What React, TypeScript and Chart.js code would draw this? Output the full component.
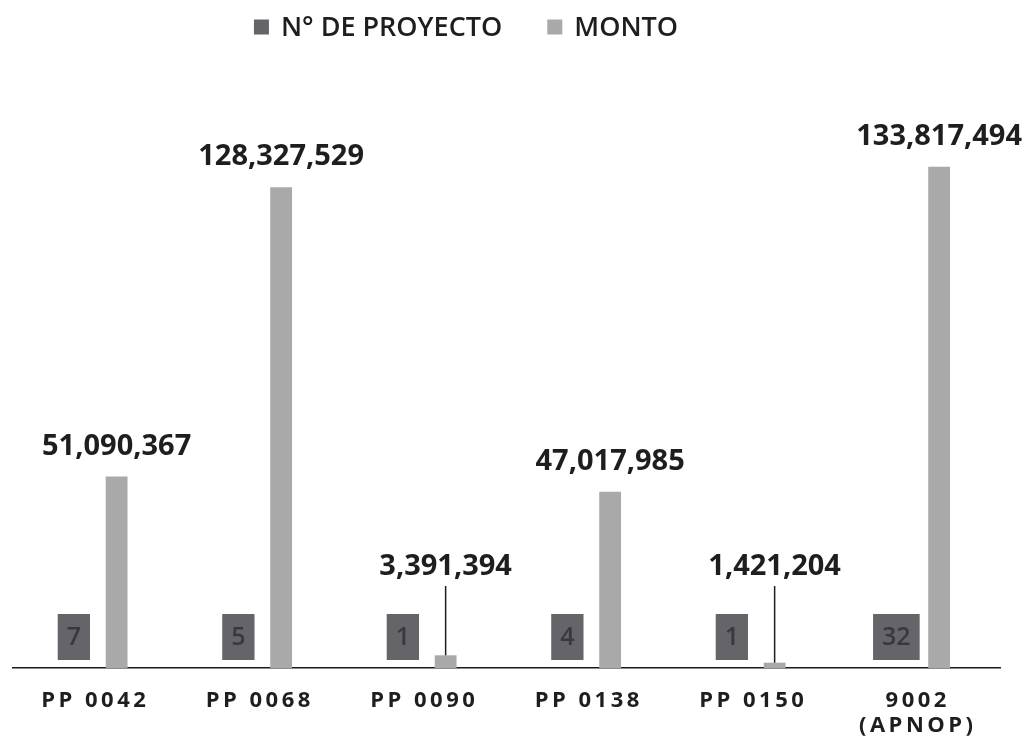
import React, { useEffect, useRef } from 'react';
import { Chart, registerables } from 'chart.js';

Chart.register(...registerables);

const categories: (string | string[])[] = ['PP 0042', 'PP 0068', 'PP 0090', 'PP 0138', 'PP 0150', ['9002', '(APNOP)']];
const proyectos = [7, 5, 1, 4, 1, 32];
const montos = [51090367, 128327529, 3391394, 47017985, 1421204, 133817494];
const seriesNames = ['N° DE PROYECTO', 'MONTO'];
const seriesColors = ['#656569', '#a9a9a9'];
const yMax = 150000000;

const fmt = (v: number) => v.toLocaleString('en-US');

const customPlugin = {
  id: 'customDraw',
  beforeDraw(chart: any) {
    (chart.ctx as any).letterSpacing = '3.5px';
  },
  beforeDatasetsDraw(chart: any) {
    (chart.ctx as any).letterSpacing = '0px';
  },
  afterDatasetsDraw(chart: any) {
    const ctx = chart.ctx as CanvasRenderingContext2D;
    const yScale = chart.scales.y;
    const base = yScale.getPixelForValue(0);
    ctx.save();
    (ctx as any).letterSpacing = '0px';

    // N° de proyecto boxes
    const meta0 = chart.getDatasetMeta(0);
    ctx.font = '600 25px "Open Sans"';
    meta0.data.forEach((el: any, i: number) => {
      const txt = String(chart.data.datasets[0].data[i]);
      const w = ctx.measureText(txt).width + 18;
      const h = 46;
      const x = el.x;
      const bottom = base - 8;
      ctx.fillStyle = seriesColors[0];
      ctx.fillRect(x - w / 2, bottom - h, w, h);
      ctx.fillStyle = '#383844';
      ctx.textAlign = 'center';
      ctx.textBaseline = 'middle';
      ctx.fillText(txt, x, bottom - h / 2 + 1);
    });

    // Monto labels
    const meta1 = chart.getDatasetMeta(1);
    ctx.font = 'bold 29px "Open Sans"';
    ctx.textAlign = 'center';
    ctx.textBaseline = 'alphabetic';
    meta1.data.forEach((el: any, i: number) => {
      const v = chart.data.datasets[1].data[i] as number;
      const txt = fmt(v);
      const top = el.y;
      ctx.fillStyle = '#1e1e1e';
      if (base - top < 40) {
        const ty = base - 93;
        ctx.fillText(txt, el.x, ty);
        ctx.strokeStyle = '#1e1e1e';
        ctx.lineWidth = 1.5;
        ctx.beginPath();
        ctx.moveTo(el.x, ty + 11);
        ctx.lineTo(el.x, top);
        ctx.stroke();
      } else {
        ctx.fillText(txt, el.x, top - 22);
      }
    });
    ctx.restore();
  },
  afterDraw(chart: any) {
    const ctx = chart.ctx as CanvasRenderingContext2D;
    ctx.save();
    (ctx as any).letterSpacing = '0px';
    ctx.font = '600 27px "Open Sans"';
    const box = 15;
    const gap = 12;
    const itemGap = 45;
    const names = chart.data.datasets.map((d: any) => d.label as string);
    const widths = names.map((n: string) => ctx.measureText(n).width);
    let total = 0;
    widths.forEach((w: number, i: number) => {
      total += box + gap + w + (i < widths.length - 1 ? itemGap : 0);
    });
    const cx = 458;
    const cy = 19;
    let x = cx - total / 2;
    names.forEach((n: string, i: number) => {
      ctx.fillStyle = chart.data.datasets[i].legendColor;
      ctx.fillRect(x, cy - box / 2, box, box);
      x += box + gap;
      ctx.fillStyle = '#1e1e1e';
      ctx.textAlign = 'left';
      ctx.textBaseline = 'middle';
      ctx.fillText(n, x, cy + 1);
      x += widths[i] + itemGap;
    });
    ctx.restore();
  },
};

export default function App() {
  const ref = useRef<HTMLCanvasElement | null>(null);
  useEffect(() => {
    if (!ref.current) return;
    const chart = new Chart(ref.current, {
      type: 'bar',
      data: {
        labels: categories,
        datasets: [
          {
            label: seriesNames[0],
            data: proyectos,
            backgroundColor: 'rgba(0,0,0,0)',
            legendColor: seriesColors[0],
            borderWidth: 0,
          } as any,
          {
            label: seriesNames[1],
            data: montos,
            backgroundColor: seriesColors[1],
            legendColor: seriesColors[1],
            borderWidth: 0,
          } as any,
        ],
      },
      options: {
        animation: false,
        responsive: false,
        maintainAspectRatio: false,
        datasets: { bar: { categoryPercentage: 0.52, barPercentage: 0.51 } },
        layout: { padding: { top: 98, left: 5, right: 22, bottom: 0 } },
        plugins: {
          legend: { display: false },
          tooltip: { enabled: false },
        },
        scales: {
          x: {
            grid: { display: false },
            border: { display: true, color: '#1a1a1a', width: 1.5 },
            ticks: {
              color: '#1e1e1e',
              padding: 13,
              font: { family: '"Open Sans"', size: 22, weight: 'bold', lineHeight: 1.1 },
            },
            afterFit: (scale: any) => {
              scale.height = 74;
            },
          },
          y: {
            display: false,
            min: 0,
            max: yMax,
          },
        },
      },
      plugins: [customPlugin],
    });
    return () => chart.destroy();
  }, []);
  return (
    <div style={{ width: 1014, height: 734 }}>
      <canvas ref={ref} width={1014} height={734} style={{ display: 'block' }} />
    </div>
  );
}
